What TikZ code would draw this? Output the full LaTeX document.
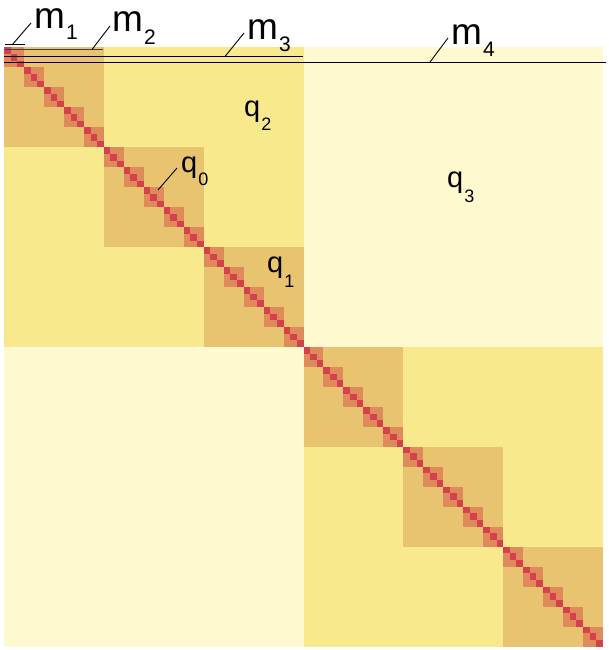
\documentclass[tikz,border=0pt]{standalone}
\usepackage{fontspec}
\setmainfont{Liberation Sans}
\definecolor{cqthree}{HTML}{FEF9CF}
\definecolor{cqtwo}{HTML}{F8E98C}
\definecolor{cqone}{HTML}{E9C470}
\definecolor{cqzero}{HTML}{DE8A5B}
\definecolor{cred}{HTML}{D6404E}
\newcommand{\mysub}[3]{\hspace{1pt}\raisebox{-#1}{\fontsize{#2}{#2}\selectfont #3}}
\begin{document}
\begin{tikzpicture}[x=1pt,y=-1pt,
  mlab/.style={anchor=base west,inner sep=0pt,font=\fontsize{37}{42}\selectfont},
  qlab/.style={anchor=base west,inner sep=0pt,font=\fontsize{29}{34}\selectfont},
  hline/.style={line width=1pt,black},
  leader/.style={line width=0.9pt,black}]
\useasboundingbox (0,0) rectangle (608,650);
\def\ox{4}\def\oy{47.5}
% blocks
\fill[cqthree] (\ox,\oy) rectangle ++(599,599);
\foreach \i in {0,1} \fill[cqtwo] ({\ox+\i*299.5},{\oy+\i*299.5}) rectangle ++(299.5,299.5);
\foreach \i in {0,...,5} \fill[cqone] ({\ox+\i*99.8333},{\oy+\i*99.8333}) rectangle ++(99.8333,99.8333);
\foreach \i in {0,...,29} \fill[cqzero] ({\ox+\i*19.9667},{\oy+\i*19.9667}) rectangle ++(19.9667,19.9667);
\foreach \i in {0,...,89} \fill[cred] ({\ox+\i*6.65556},{\oy+\i*6.65556}) rectangle ++(6.65556,6.65556);
% level lines
\coordinate (a1) at (5,45);  \coordinate (b1) at (25,45);
\coordinate (a2) at (5,50);  \coordinate (b2) at (103,50);
\coordinate (a3) at (4,56.5);  \coordinate (b3) at (303,56.5);
\coordinate (a4) at (4,62.3);  \coordinate (b4) at (606,62.3);
\draw[hline] (a1) -- (b1);
\draw[hline,black!75] (a2) -- (b2);
\draw[hline] (a3) -- (b3);
\draw[hline] (a4) -- (b4);
% labels
\node[mlab] (m1) at (34,29) {m\mysub{11pt}{21}{1}};
\node[mlab] (m2) at (112,32) {m\mysub{13pt}{21}{2}};
\node[mlab] (m3) at (247,40) {m\mysub{12pt}{21}{3}};
\node[mlab] (m4) at (451,45) {m\mysub{12pt}{21}{4}};
\node[qlab] (q2) at (244,117) {q\mysub{14pt}{18}{2}};
\node[qlab] (q3) at (447,187) {q\mysub{15pt}{18}{3}};
\node[qlab] (q1) at (267,272) {q\mysub{15pt}{18}{1}};
\node[qlab] (q0) at (181,172) {q\mysub{13pt}{18}{0}};
% leaders
\coordinate (l1a) at (12,45); \coordinate (l1b) at (31,23);
\coordinate (l2a) at (92,49.5); \coordinate (l2b) at (110,26);
\coordinate (l3a) at (225,56.5); \coordinate (l3b) at (244,33);
\coordinate (l4a) at (430,62); \coordinate (l4b) at (448,38);
\coordinate (l0a) at (158,190); \coordinate (l0b) at (177,168);
\draw[leader] (l1a) -- (l1b);
\draw[leader] (l2a) -- (l2b);
\draw[leader] (l3a) -- (l3b);
\draw[leader] (l4a) -- (l4b);
\draw[leader] (l0a) -- (l0b);
\end{tikzpicture}
\end{document}
